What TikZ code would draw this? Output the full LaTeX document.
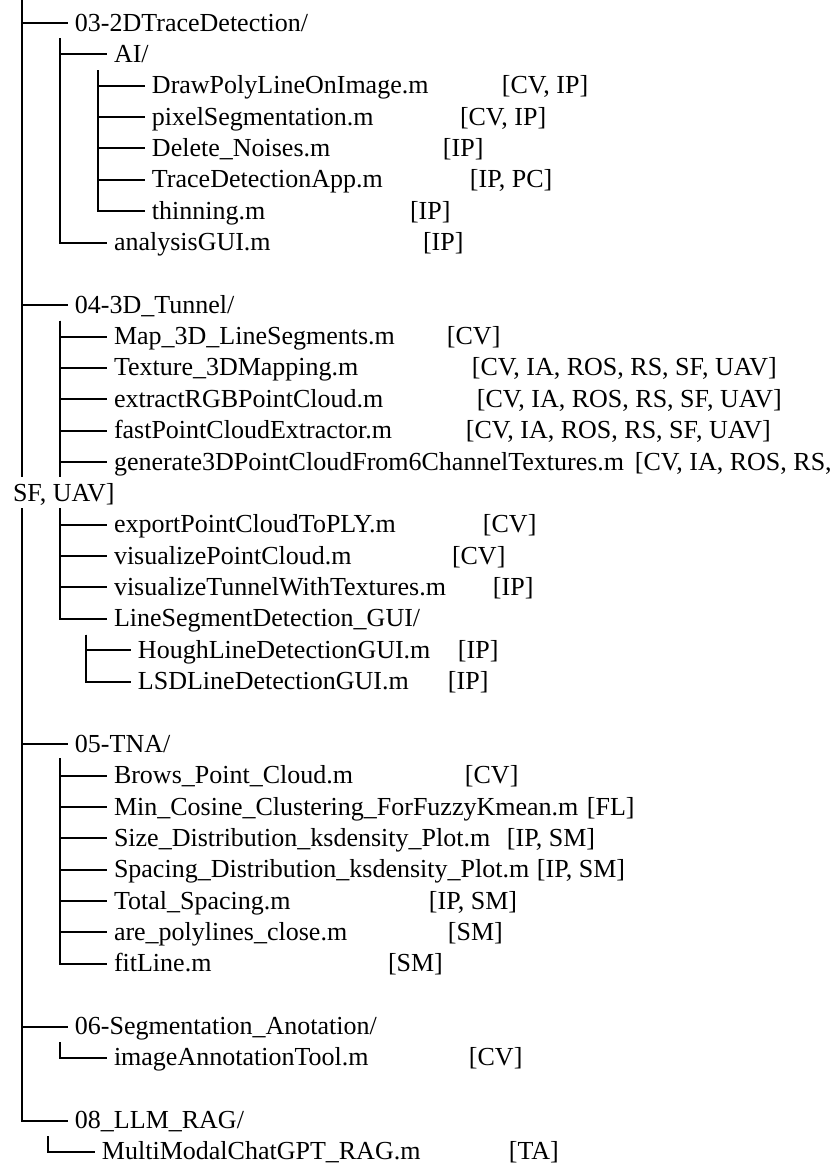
\documentclass[tikz,border=0pt]{standalone}
\usepackage{fontspec}
\setmainfont{Liberation Serif}

\begin{document}
\begin{tikzpicture}[x=0.5pt, y=-15.68pt, line width=1pt,
  item/.style={anchor=west, inner xsep=3pt, inner ysep=0pt, text height=10pt, text depth=2pt, font=\fontsize{13pt}{15pt}\selectfont}]
  \useasboundingbox (0,-0.7334) rectangle (832,36.448);
  \coordinate (top) at (22,-0.7334);
  \coordinate (rb1) at (22,14.48);
  \coordinate (rb2) at (22,15.47);
  \coordinate (c03) at (60,0.48);
  \coordinate (cai) at (98,1.5);
  \coordinate (c04) at (60,9.5);
  \coordinate (c04b) at (60,14.48);
  \coordinate (c04c) at (60,15.47);
  \coordinate (cls) at (86,19.5);
  \coordinate (c05) at (60,23.45);
  \coordinate (c06) at (60,32.5);
  \coordinate (c08) at (48,35.5);
  \node[item] (d03) at (68,0) {03-2DTraceDetection/};
  \node[item] (ai) at (107,1) {AI/};
  \node[item] (drawpoly) at (145,2) {DrawPolyLineOnImage.m};
  \node[item] (t-drawpoly) at (495,2) {[CV, IP]};
  \node[item] (pixelseg) at (145,3) {pixelSegmentation.m};
  \node[item] (t-pixelseg) at (453,3) {[CV, IP]};
  \node[item] (delnoise) at (145,4) {Delete\_Noises.m};
  \node[item] (t-delnoise) at (436,4) {[IP]};
  \node[item] (traceapp) at (145,5) {TraceDetectionApp.m};
  \node[item] (t-traceapp) at (463,5) {[IP, PC]};
  \node[item] (thinning) at (145,6) {thinning.m};
  \node[item] (t-thinning) at (403,6) {[IP]};
  \node[item] (analysis) at (107,7) {analysisGUI.m};
  \node[item] (t-analysis) at (416,7) {[IP]};
  \node[item] (d04) at (68,9) {04-3D\_Tunnel/};
  \node[item] (map3d) at (107,10) {Map\_3D\_LineSegments.m};
  \node[item] (t-map3d) at (440,10) {[CV]};
  \node[item] (texture) at (107,11) {Texture\_3DMapping.m};
  \node[item] (t-texture) at (465,11) {[CV, IA, ROS, RS, SF, UAV]};
  \node[item] (extractrgb) at (107,12) {extractRGBPointCloud.m};
  \node[item] (t-extractrgb) at (470,12) {[CV, IA, ROS, RS, SF, UAV]};
  \node[item] (fastpc) at (107,13) {fastPointCloudExtractor.m};
  \node[item] (t-fastpc) at (459,13) {[CV, IA, ROS, RS, SF, UAV]};
  \node[item] (genpc) at (107,14) {generate3DPointCloudFrom6ChannelTextures.m};
  \node[item] (t-genpc) at (628,14) {[CV, IA, ROS, RS,};
  \node[item] (sfuav) at (6,15) {SF, UAV]};
  \node[item] (exportply) at (107,16) {exportPointCloudToPLY.m};
  \node[item] (t-exportply) at (476,16) {[CV]};
  \node[item] (vispc) at (107,17) {visualizePointCloud.m};
  \node[item] (t-vispc) at (445,17) {[CV]};
  \node[item] (vistunnel) at (107,18) {visualizeTunnelWithTextures.m};
  \node[item] (t-vistunnel) at (486,18) {[IP]};
  \node[item] (lsgui) at (107,19) {LineSegmentDetection\_GUI/};
  \node[item] (hough) at (131,20) {HoughLineDetectionGUI.m};
  \node[item] (t-hough) at (451,20) {[IP]};
  \node[item] (lsd) at (131,21) {LSDLineDetectionGUI.m};
  \node[item] (t-lsd) at (441,21) {[IP]};
  \node[item] (d05) at (68,23) {05-TNA/};
  \node[item] (brows) at (107,24) {Brows\_Point\_Cloud.m};
  \node[item] (t-brows) at (458,24) {[CV]};
  \node[item] (mincos) at (107,25) {Min\_Cosine\_Clustering\_ForFuzzyKmean.m};
  \node[item] (t-mincos) at (580,25) {[FL]};
  \node[item] (sizedist) at (107,26) {Size\_Distribution\_ksdensity\_Plot.m};
  \node[item] (t-sizedist) at (500,26) {[IP, SM]};
  \node[item] (spacedist) at (107,27) {Spacing\_Distribution\_ksdensity\_Plot.m};
  \node[item] (t-spacedist) at (530,27) {[IP, SM]};
  \node[item] (totalsp) at (107,28) {Total\_Spacing.m};
  \node[item] (t-totalsp) at (422,28) {[IP, SM]};
  \node[item] (arepoly) at (107,29) {are\_polylines\_close.m};
  \node[item] (t-arepoly) at (441,29) {[SM]};
  \node[item] (fitline) at (107,30) {fitLine.m};
  \node[item] (t-fitline) at (381,30) {[SM]};
  \node[item] (d06) at (68,32) {06-Segmentation\_Anotation/};
  \node[item] (imganno) at (107,33) {imageAnnotationTool.m};
  \node[item] (t-imganno) at (462,33) {[CV]};
  \node[item] (d08) at (68,35) {08\_LLM\_RAG/};
  \node[item] (chatrag) at (95,36) {MultiModalChatGPT\_RAG.m};
  \node[item] (t-chatrag) at (502,36) {[TA]};
  \draw (top) |- (d03.west);
  \draw (top) |- (d04.west);
  \draw (top) -- (rb1);
  \draw (rb2) |- (d05.west);
  \draw (rb2) |- (d06.west);
  \draw (rb2) |- (d08.west);
  \draw (c03) |- (ai.west);
  \draw (c03) |- (analysis.west);
  \draw (cai) |- (drawpoly.west);
  \draw (cai) |- (pixelseg.west);
  \draw (cai) |- (delnoise.west);
  \draw (cai) |- (traceapp.west);
  \draw (cai) |- (thinning.west);
  \draw (c04) |- (map3d.west);
  \draw (c04) |- (texture.west);
  \draw (c04) |- (extractrgb.west);
  \draw (c04) |- (fastpc.west);
  \draw (c04) |- (genpc.west);
  \draw (c04) -- (c04b);
  \draw (c04c) |- (exportply.west);
  \draw (c04c) |- (vispc.west);
  \draw (c04c) |- (vistunnel.west);
  \draw (c04c) |- (lsgui.west);
  \draw (cls) |- (hough.west);
  \draw (cls) |- (lsd.west);
  \draw (c05) |- (brows.west);
  \draw (c05) |- (mincos.west);
  \draw (c05) |- (sizedist.west);
  \draw (c05) |- (spacedist.west);
  \draw (c05) |- (totalsp.west);
  \draw (c05) |- (arepoly.west);
  \draw (c05) |- (fitline.west);
  \draw (c06) |- (imganno.west);
  \draw (c08) |- (chatrag.west);
\end{tikzpicture}
\end{document}
